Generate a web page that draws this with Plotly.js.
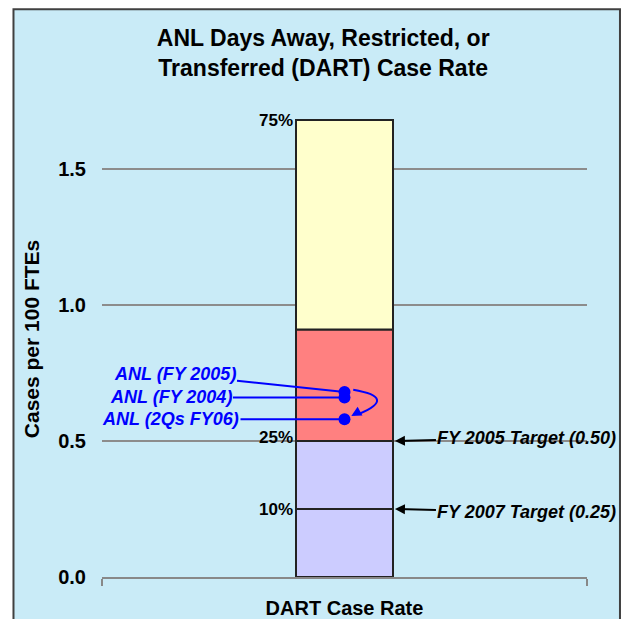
<!DOCTYPE html>
<html>
<head>
<meta charset="utf-8">
<script src="https://cdn.plot.ly/plotly-3.0.1.min.js"></script>
<style>html,body{margin:0;padding:0;background:#fff;}#chart{width:624px;height:619px;}</style>
</head>
<body>
<div id="chart"></div>
<script>
// Percentile boundaries of the DART case rate (cases per 100 FTEs)
const percentileLabels = ['10%', '25%', '', '75%'];
const percentileRates = [0.25, 0.50, 0.91, 1.68];
const segmentColors = ['#ccccff', '#ccccff', '#ff8080', '#ffffcc'];

// ANL points
const anlLabels = ['ANL (FY 2005)', 'ANL (FY 2004)', 'ANL (2Qs FY06)'];
const anlRates = [0.68, 0.66, 0.58];

// Targets
const targetLabels = ['FY 2005 Target (0.50)', 'FY 2007 Target (0.25)'];
const targetRates = [0.50, 0.25];

const FONT = 'Liberation Sans, Arial, sans-serif';
const traces = [];
let prev = 0;
percentileRates.forEach((v, i) => {
  traces.push({
    type: 'bar', x: [0], y: [v - prev], base: [prev], width: 0.2,
    marker: {color: segmentColors[i], line: {color: '#222', width: 2}},
    hoverinfo: 'skip', showlegend: false
  });
  prev = v;
});
traces.push({
  type: 'scatter', mode: 'markers', x: anlRates.map(() => 0), y: anlRates,
  marker: {color: '#0000ff', size: 12}, showlegend: false, text: anlLabels
});

const annotations = [];
percentileLabels.forEach((t, i) => {
  if (!t) return;
  annotations.push({x: -0.1, y: percentileRates[i], xref: 'x', yref: 'y', text: t,
    showarrow: false, xanchor: 'right', yanchor: 'middle', xshift: -1, yshift: i === 1 ? 4 : 0,
    font: {family: FONT, size: 17, color: '#000', weight: 'bold'}});
});
const anlOffsets = [[-170, -18], [-174, 0], [-174, 0]];
anlLabels.forEach((t, i) => {
  annotations.push({x: 0, y: anlRates[i], xref: 'x', yref: 'y', text: t,
    showarrow: true, arrowhead: 0, arrowwidth: 2, arrowcolor: '#0000ff',
    ax: anlOffsets[i][0], ay: anlOffsets[i][1], standoff: 0,
    font: {family: FONT, size: 18, color: '#0000ff', weight: 'bold', style: 'italic'}});
});
// arrowhead of curved arrow
annotations.push({x: 0.014, y: anlRates[2] + 0.012, xref: 'x', yref: 'y', text: '',
  showarrow: true, arrowhead: 2, arrowsize: 1, arrowwidth: 2, arrowcolor: '#0000ff',
  ax: 9, ay: -5, standoff: 0});
const targetAy = [-3, 3];
targetLabels.forEach((t, i) => {
  annotations.push({x: 0.104, y: targetRates[i], xref: 'x', yref: 'y', text: t,
    showarrow: true, arrowhead: 2, arrowsize: 1, arrowwidth: 2, arrowcolor: '#000',
    ax: 132, ay: targetAy[i], standoff: 0,
    font: {family: FONT, size: 18, color: '#000', weight: 'bold', style: 'italic'}});
});

const layout = {
  width: 624, height: 619,
  margin: {l: 102, r: 37, t: 101, b: 42},
  barmode: 'overlay',
  paper_bgcolor: '#ffffff', plot_bgcolor: 'rgba(0,0,0,0)',
  title: {text: 'ANL Days Away, Restricted, or<br>Transferred (DART) Case Rate',
    x: 0.518, xanchor: 'center', y: 0.925, yanchor: 'top',
    font: {family: FONT, size: 23, color: '#000', weight: 'bold'}},
  xaxis: {range: [-0.5, 0.5], showgrid: false, zeroline: false, showline: true,
    linecolor: '#888', linewidth: 2, ticks: 'outside', tickvals: [-0.5, 0.5], ticklen: 7,
    tickcolor: '#888', tickwidth: 2, showticklabels: false, fixedrange: true,
    title: {text: 'DART Case Rate', standoff: 16, font: {family: FONT, size: 20, color: '#000', weight: 'bold'}}},
  yaxis: {range: [0, 1.75], tickvals: [0, 0.5, 1.0, 1.5], ticktext: ['0.0', '0.5', '1.0', '1.5'],
    showgrid: true, gridcolor: '#8c8c8c', gridwidth: 2, zeroline: false, showline: false,
    ticks: '', ticklabelstandoff: 15,
    tickfont: {family: FONT, size: 20, color: '#000', weight: 'bold'},
    title: {text: 'Cases per 100 FTEs', standoff: 12, font: {family: FONT, size: 21, color: '#000', weight: 'bold'}}},
  shapes: [
    {type: 'rect', xref: 'paper', yref: 'paper', x0: -0.1825, x1: 1.068, y0: -0.16, y1: 1.193,
      fillcolor: '#c9ebf7', line: {color: '#404040', width: 2}, layer: 'below'},
    {type: 'path', xref: 'x', yref: 'y', layer: 'above',
      path: 'M 0.018 0.688 Q 0.11 0.66 0.03 0.6',
      line: {color: '#0000ff', width: 2}}
  ],
  annotations: annotations,
  showlegend: false
};
Plotly.newPlot('chart', traces, layout, {displayModeBar: false, staticPlot: true});
</script>
</body>
</html>
